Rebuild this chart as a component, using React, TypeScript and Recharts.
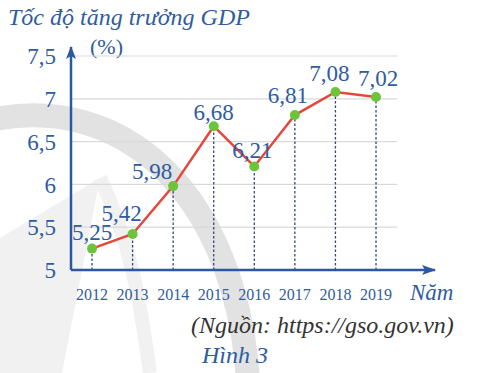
import React from 'react';
import { LineChart, Line, XAxis, YAxis, ReferenceLine, LabelList } from 'recharts';

const years = [2012, 2013, 2014, 2015, 2016, 2017, 2018, 2019];
const growth = [5.25, 5.42, 5.98, 6.68, 6.21, 6.81, 7.08, 7.02];
const yTicks = [5, 5.5, 6, 6.5, 7, 7.5];

const title = 'Tốc độ tăng trưởng GDP';
const unit = '(%)';
const xName = 'Năm';
const source = '(Nguồn: https://gso.gov.vn)';
const caption = 'Hình 3';

// label offsets (style only)
const labelDx = [0, -11, -21, 0, -2, -7, -6, 2];
const labelDy = [-17, -21, -15, -14, -16, -20, -19, -19];

const data = years.map((y, i) => ({ year: y, value: growth[i] }));

const BLUE = '#2f5c9f';
const AXIS = '#2b58a0';
const FONT = "'Liberation Serif', serif";
const serif = { fontFamily: FONT };
const fmt = (v: number) => String(v).replace('.', ',');

const X_MIN = 2011.482;
const X_MAX = 2020.454;
const GRID_END = 2019.52;

const renderLabel = (props: any) => {
  const { x, y, index, value } = props;
  return (
    <text
      x={x + labelDx[index]}
      y={y + labelDy[index]}
      dy="0.35em"
      textAnchor="middle"
      style={serif}
      fontSize={23}
      fill={BLUE}
    >
      {fmt(value)}
    </text>
  );
};

export default function App() {
  return (
    <div style={{ position: 'absolute', left: 0, top: 0, width: 485, height: 373, background: '#fff', overflow: 'hidden', fontFamily: FONT }}>
      <svg width={485} height={373} style={{ position: 'absolute', left: 0, top: 0 }}>
        <path d="M 100 178 L 0 238 L 0 373 L 62 373 Z" fill="#f1f1f1" />
        <path d="M 100 178 C 130 240, 140 300, 150 373" fill="none" stroke="#f1f1f1" strokeWidth={14} />
        <path d="M -10 120 C 120 92, 235 190, 248 380" fill="none" stroke="#e2e2e2" strokeWidth={24} />
        <text x={8} y={25} style={serif} fontStyle="italic" fontSize={24} fill={BLUE}>{title}</text>
        <text x={90} y={54} style={serif} fontSize={22} fill={BLUE}>{unit}</text>
        <text x={410} y={300} style={serif} fontStyle="italic" fontSize={23} fill={BLUE}>{xName}</text>
        <text x={191} y={333} style={serif} fontStyle="italic" fontSize={24} fill="#333333">{source}</text>
        <text x={202} y={363} style={serif} fontStyle="italic" fontSize={24} fill={BLUE}>{caption}</text>
      </svg>
      <div style={{ position: 'absolute', left: 0, top: 0 }}>
        <LineChart width={485} height={373} data={data} margin={{ top: 47, right: 50, bottom: 73, left: 0 }}>
          <defs>
            <marker id="arrowX" viewBox="0 0 14 10" refX={13} refY={5} markerWidth={14} markerHeight={10} markerUnits="userSpaceOnUse" orient="auto">
              <path d="M 0 0 L 14 5 L 0 10 L 3 5 Z" fill={AXIS} />
            </marker>
            <marker id="arrowY" viewBox="0 0 13 10" refX={12} refY={5} markerWidth={13} markerHeight={10} markerUnits="userSpaceOnUse" orient="auto-start-reverse">
              <path d="M 0 0 L 13 5 L 0 10 L 3 5 Z" fill={AXIS} />
            </marker>
          </defs>
          {yTicks.slice(1).map((t) => (
            <ReferenceLine
              key={'g' + t}
              segment={[{ x: X_MIN, y: t }, { x: GRID_END, y: t }]}
              stroke="#d9d9d9"
              strokeWidth={1.2}
            />
          ))}
          {data.map((d) => (
            <ReferenceLine
              key={'v' + d.year}
              segment={[{ x: d.year, y: 5 }, { x: d.year, y: d.value }]}
              stroke="#34477c"
              strokeWidth={1.3}
              strokeDasharray="2.5 2"
            />
          ))}
          <XAxis
            dataKey="year"
            type="number"
            domain={[X_MIN, X_MAX]}
            ticks={years}
            allowDataOverflow
            height={30}
            tickLine={false}
            tickSize={0}
            tickMargin={19}
            tickFormatter={(v: number) => String(v)}
            tick={{ fill: BLUE, fontSize: 16, style: serif } as any}
            axisLine={{ stroke: AXIS, strokeWidth: 2.5, markerEnd: 'url(#arrowX)' } as any}
          />
          <YAxis
            type="number"
            domain={[5, 7.605]}
            ticks={yTicks}
            allowDataOverflow
            width={71}
            tickLine={false}
            tickSize={0}
            tickMargin={15}
            tickFormatter={fmt}
            tick={{ fill: BLUE, fontSize: 23, style: serif } as any}
            axisLine={{ stroke: AXIS, strokeWidth: 2.5, markerStart: 'url(#arrowY)' } as any}
          />
          <Line
            dataKey="value"
            stroke="#e5473b"
            strokeWidth={2.5}
            isAnimationActive={false}
            dot={{ r: 5, fill: '#6cc43a', stroke: 'none' }}
          >
            <LabelList dataKey="value" content={renderLabel} />
          </Line>
        </LineChart>
      </div>
    </div>
  );
}
